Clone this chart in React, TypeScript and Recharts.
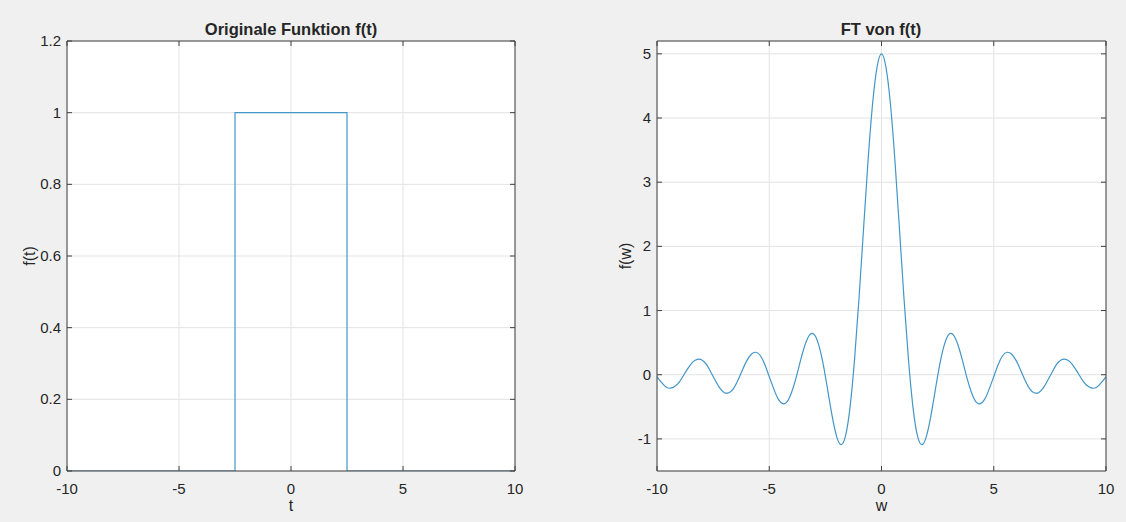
import React from 'react';
import { LineChart, Line, XAxis, YAxis, CartesianGrid, Label } from 'recharts';

// Originale Funktion f(t): rectangle from -2.5 to 2.5
const tValues = [-10, -2.5, -2.5, 2.5, 2.5, 10];
const fValues = [0, 0, 1, 1, 0, 0];

const wValues = [
  -10, -9.8, -9.6, -9.4, -9.2, -9, -8.8, -8.6, -8.4, -8.2,
  -8, -7.8, -7.6, -7.4, -7.2, -7, -6.8, -6.6, -6.4, -6.2,
  -6, -5.8, -5.6, -5.4, -5.2, -5, -4.8, -4.6, -4.4, -4.2,
  -4, -3.8, -3.6, -3.4, -3.2, -3, -2.8, -2.6, -2.4, -2.2,
  -2, -1.8, -1.6, -1.4, -1.2, -1, -0.8, -0.6, -0.4, -0.2,
  0,
  0.2, 0.4, 0.6, 0.8, 1, 1.2, 1.4, 1.6, 1.8, 2,
  2.2, 2.4, 2.6, 2.8, 3, 3.2, 3.4, 3.6, 3.8, 4,
  4.2, 4.4, 4.6, 4.8, 5, 5.2, 5.4, 5.6, 5.8, 6,
  6.2, 6.4, 6.6, 6.8, 7, 7.2, 7.4, 7.6, 7.8, 8,
  8.2, 8.4, 8.6, 8.8, 9, 9.2, 9.4, 9.6, 9.8, 10,
];
const ftValues = [
  -0.03, -0.12, -0.19, -0.21, -0.18, -0.11, 0.0, 0.11, 0.2, 0.24,
  0.23, 0.16, 0.04, -0.09, -0.21, -0.28, -0.28, -0.22, -0.09, 0.07,
  0.22, 0.32, 0.35, 0.3, 0.16, -0.03, -0.22, -0.38, -0.45, -0.42,
  -0.27, -0.04, 0.23, 0.47, 0.62, 0.63, 0.47, 0.17, -0.23, -0.64,
  -0.96, -1.09, -0.95, -0.5, 0.24, 1.2, 2.27, 3.33, 4.21, 4.79,
  5.0,
  4.79, 4.21, 3.33, 2.27, 1.2, 0.24, -0.5, -0.95, -1.09, -0.96,
  -0.64, -0.23, 0.17, 0.47, 0.63, 0.62, 0.47, 0.23, -0.04, -0.27,
  -0.42, -0.45, -0.38, -0.22, -0.03, 0.16, 0.3, 0.35, 0.32, 0.22,
  0.07, -0.09, -0.22, -0.28, -0.28, -0.21, -0.09, 0.04, 0.16, 0.23,
  0.24, 0.2, 0.11, 0.0, -0.11, -0.18, -0.21, -0.19, -0.12, -0.03,
];

const xTicks = [-10, -5, 0, 5, 10];
const leftYTicks = [0, 0.2, 0.4, 0.6, 0.8, 1, 1.2];
const rightYTicks = [-1, 0, 1, 2, 3, 4, 5];

const rectData = tValues.map((t, i) => ({ x: t, y: fValues[i] }));
const ftData = wValues.map((w, i) => ({ x: w, y: ftValues[i] }));

const FONT = '"Liberation Sans", Arial, Helvetica, sans-serif';
const AXIS = '#404040';
const TEXT = '#262626';
const GRID = '#e3e3e3';
const BLUE = '#4496c8';
const TICK_LEN = 5;

const BottomTick = (props: any) => {
  const { x, y, payload } = props;
  return (
    <g>
      <line x1={x} x2={x} y1={y} y2={y - TICK_LEN} stroke={AXIS} />
      <text x={x} y={y} dy={23} textAnchor="middle" fill={TEXT} fontSize={15} fontFamily={FONT}>
        {String(payload.value)}
      </text>
    </g>
  );
};

const LeftTick = (props: any) => {
  const { x, y, payload } = props;
  return (
    <g>
      <line x1={x} x2={x + TICK_LEN} y1={y} y2={y} stroke={AXIS} />
      <text x={x - 6} y={y} dy={5} textAnchor="end" fill={TEXT} fontSize={15} fontFamily={FONT}>
        {String(payload.value)}
      </text>
    </g>
  );
};

const TopTick = (props: any) => {
  const { x, y } = props;
  return <line x1={x} x2={x} y1={y} y2={y + TICK_LEN} stroke={AXIS} />;
};

const RightTick = (props: any) => {
  const { x, y } = props;
  return <line x1={x} x2={x - TICK_LEN} y1={y} y2={y} stroke={AXIS} />;
};

type PanelProps = {
  data: { x: number; y: number }[];
  curve: 'linear' | 'natural';
  yDomain: [number, number];
  yTicks: number[];
  xLabel: string;
  yLabel: string;
  yLabelOffset: number;
  width: number;
  margin: { top: number; right: number; bottom: number; left: number };
};

const Panel = ({ data, curve, yDomain, yTicks, xLabel, yLabel, yLabelOffset, width, margin }: PanelProps) => (
  <LineChart width={width} height={522} data={data} margin={margin}>
    <CartesianGrid stroke={GRID} fill="#ffffff" />
    <XAxis
      dataKey="x"
      type="number"
      domain={[-10, 10]}
      ticks={xTicks}
      allowDataOverflow
      height={45}
      tickSize={0}
      tickMargin={0}
      tickLine={false}
      axisLine={{ stroke: AXIS }}
      tick={BottomTick}
    >
      <Label value={xLabel} position="insideBottom" offset={5} fill={TEXT} fontSize={16} fontFamily={FONT} />
    </XAxis>
    <XAxis
      xAxisId="top"
      orientation="top"
      dataKey="x"
      type="number"
      domain={[-10, 10]}
      ticks={xTicks}
      allowDataOverflow
      height={1}
      tickSize={0}
      tickMargin={0}
      tickLine={false}
      axisLine={{ stroke: AXIS }}
      tick={TopTick}
    />
    <YAxis
      type="number"
      domain={yDomain}
      ticks={yTicks}
      allowDataOverflow
      width={40}
      tickSize={0}
      tickMargin={0}
      tickLine={false}
      axisLine={{ stroke: AXIS }}
      tick={LeftTick}
    >
      <Label
        value={yLabel}
        angle={-90}
        position="insideLeft"
        offset={yLabelOffset}
        fill={TEXT}
        fontSize={16}
        fontFamily={FONT}
        style={{ textAnchor: 'middle' }}
      />
    </YAxis>
    <YAxis
      yAxisId="right"
      orientation="right"
      type="number"
      domain={yDomain}
      ticks={yTicks}
      allowDataOverflow
      width={1}
      tickSize={0}
      tickMargin={0}
      tickLine={false}
      axisLine={{ stroke: AXIS }}
      tick={RightTick}
    />
    <Line
      type={curve}
      dataKey="y"
      stroke={BLUE}
      strokeWidth={1.2}
      dot={false}
      isAnimationActive={false}
    />
  </LineChart>
);

const App: React.FC = () => {
  return (
    <div
      style={{
        position: 'fixed',
        left: 0,
        top: 0,
        width: 1126,
        height: 522,
        background: '#f0f0f0',
        fontFamily: FONT,
      }}
    >
      <svg width={1126} height={522} style={{ position: 'absolute', left: 0, top: 0 }}>
        <text x={291} y={35} textAnchor="middle" fontWeight="bold" fontSize={16.5} fill={TEXT} fontFamily={FONT}>
          Originale Funktion f(t)
        </text>
        <text x={881} y={35} textAnchor="middle" fontWeight="bold" fontSize={16.5} fill={TEXT} fontFamily={FONT}>
          FT von f(t)
        </text>
      </svg>
      <div style={{ position: 'absolute', left: 0, top: 0 }}>
        <Panel
          data={rectData}
          curve="linear"
          yDomain={[0, 1.2]}
          yTicks={leftYTicks}
          xLabel="t"
          yLabel="f(t)"
          yLabelOffset={2}
          width={563}
          margin={{ top: 40, right: 47, bottom: 6, left: 27 }}
        />
      </div>
      <div style={{ position: 'absolute', left: 580, top: 0 }}>
        <Panel
          data={ftData}
          curve="natural"
          yDomain={[-1.5, 5.2]}
          yTicks={rightYTicks}
          xLabel="w"
          yLabel="f(w)"
          yLabelOffset={8}
          width={546}
          margin={{ top: 40, right: 19, bottom: 6, left: 37 }}
        />
      </div>
    </div>
  );
};

export default App;
